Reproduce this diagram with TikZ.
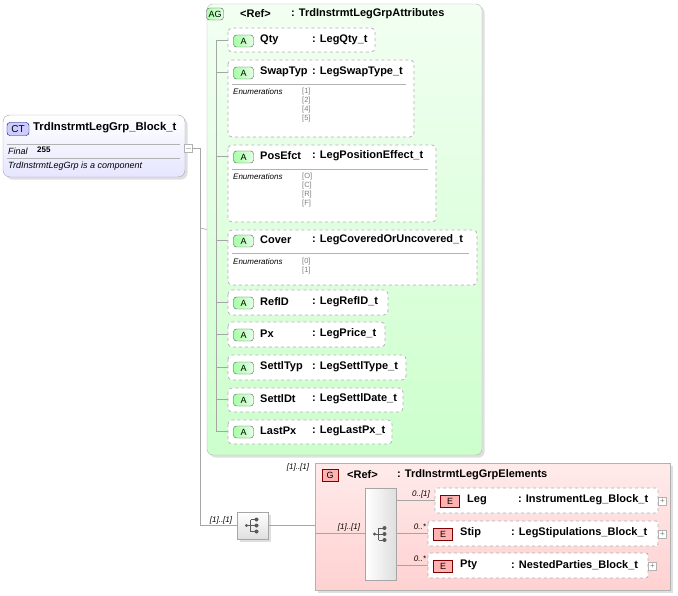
\documentclass[tikz,border=0pt]{standalone}
\usepackage{fontspec}
\setmainfont{Liberation Sans}
\usetikzlibrary{shadows}
\begin{document}
\begin{tikzpicture}[x=1pt,y=-1pt,
  attr/.style={draw=gray!60,dashed,rounded corners=4pt,fill=white,line width=0.8pt},
  badgeA/.style={draw=gray!70!black,left color=green!35,right color=green!10,rounded corners=3pt,inner sep=1.5pt,minimum width=20pt,minimum height=12pt,font=\fontsize{9}{9}\selectfont},
  badgeE/.style={draw=red!50!black,fill=red!30,inner sep=1.5pt,minimum width=19pt,minimum height=12pt,font=\fontsize{9}{9}\selectfont},
  nm/.style={anchor=west,font=\fontsize{11}{12}\selectfont\bfseries,inner sep=0pt},
  en/.style={anchor=west,font=\fontsize{8}{9}\selectfont\itshape,inner sep=0pt},
  ev/.style={anchor=west,font=\fontsize{7.5}{8}\selectfont,text=gray,inner sep=0pt},
  card/.style={font=\fontsize{8}{9}\selectfont\itshape,inner sep=0pt},
  tree/.style={draw=gray!70,line width=0.6pt},
  plus/.style={draw=gray!60,fill=white,minimum size=8pt,inner sep=0pt,font=\fontsize{8}{8}\selectfont,text=gray}]
\useasboundingbox (0,0) rectangle (678,596);

% complex type
\node[draw=gray!70,rounded corners=7pt,top color=white,bottom color=blue!10,minimum width=182pt,minimum height=62pt,drop shadow={opacity=0.25}] (ct) at (94,146) {};
\node[draw=blue!50!black,fill=blue!20,rounded corners=3pt,inner sep=1.5pt,minimum width=22pt,minimum height=13pt,font=\fontsize{10}{10}\selectfont] (ctb) at (18,129) {CT};
\node[nm,font=\fontsize{11.3}{12}\selectfont\bfseries] (ctt) at (33,128) {TrdInstrmtLegGrp\_Block\_t};
\draw[gray!60] (7,144) -- (180,144) (7,158) -- (180,158);
\node[en,font=\fontsize{9}{9}\selectfont\itshape] (fin) at (8,151) {Final};
\node[nm,font=\fontsize{8}{8}\selectfont\bfseries] (fv) at (37,150) {255};
\node[en,font=\fontsize{9}{9}\selectfont\itshape] (ctd) at (8,166) {TrdInstrmtLegGrp is a component};
\node[draw=gray!60,fill=white,minimum size=8pt,inner sep=0pt] (col) at (188,148) {};
\draw[gray!50] (185.5,148) -- (190.5,148);

% attribute group
\node[draw=gray!60,rounded corners=6pt,top color=green!5,bottom color=green!20,minimum width=275pt,minimum height=451pt,drop shadow={opacity=0.25}] (ag) at (344.5,229.5) {};
\node[badgeA,minimum width=17pt] (agb) at (215,14) {AG};
\node[nm] (agr) at (240,14) {<Ref>};
\node[nm] (agt) at (291,14) {: TrdInstrmtLegGrpAttributes};

\coordinate (colr) at (192,148);
\coordinate (tv) at (200,148);
\coordinate (tb) at (200,525);
\draw[tree] (colr) -- (tv) -- (tb);
\draw[tree] (200,228) -- (ag.west);
\draw[tree] (216,40) -- (216,431);

% attributes: name, type, x-right, y-top, y-bottom, header y
\foreach \n/\t/\r/\ya/\yb/\h in {
  Qty/LegQty\_t/375/28/52/40,
  SwapTyp/LegSwapType\_t/414/60/137/72,
  PosEfct/LegPositionEffect\_t/436/145/222/156,
  Cover/LegCoveredOrUncovered\_t/477/230/285/240,
  RefID/LegRefID\_t/388/290/315/302,
  Px/LegPrice\_t/385/322/347/334,
  SettlTyp/LegSettlType\_t/406/355/380/367,
  SettlDt/LegSettlDate\_t/403/388/412/399,
  LastPx/LegLastPx\_t/392/420/444/431}{
  \draw[attr] (228,\ya) rectangle (\r,\yb);
  \draw[tree] (216,\h) -- (228,\h);
  \node[badgeA] (b\n) at (243.5,\h+1) {A};
  \node[nm] (n\n) at (260,\h) {\n};
  \node[nm] (t\n) at (312,\h) {: \t};
}
\draw[gray!60] (232,84) -- (406,84) (232,169) -- (428,169) (232,253) -- (469,253);
\node[en] (e1) at (233,92) {Enumerations};
\node[ev] (v11) at (302,92) {[1]};
\node[ev] (v12) at (302,101) {[2]};
\node[ev] (v13) at (302,110) {[4]};
\node[ev] (v14) at (302,119) {[5]};
\node[en] (e2) at (233,177) {Enumerations};
\node[ev] (v21) at (302,177) {[O]};
\node[ev] (v22) at (302,186) {[C]};
\node[ev] (v23) at (302,195) {[R]};
\node[ev] (v24) at (302,204) {[F]};
\node[en] (e3) at (233,262) {Enumerations};
\node[ev] (v31) at (302,262) {[0]};
\node[ev] (v32) at (302,271) {[1]};

% sequence
\node[draw=gray!70,top color=white,bottom color=gray!25,minimum width=31pt,minimum height=27pt,drop shadow={opacity=0.25}] (seq) at (252.5,525.5) {};
\node[card] (c1) at (221,520) {[1]..[1]};
\draw[tree] (tb) -- (tb -| seq.west);

% group
\node[draw=gray!60,top color=red!8,bottom color=red!18,minimum width=355pt,minimum height=127pt,drop shadow={opacity=0.25}] (g) at (492.5,526.5) {};
\node[card] (c2) at (298,467) {[1]..[1]};
\node[badgeE,minimum width=16pt] (gb) at (330,475) {G};
\node[nm] (gr) at (347,475) {<Ref>};
\node[nm] (gt) at (397,475) {: TrdInstrmtLegGrpElements};
\draw[tree] (seq.east |- tb) -- (g.west |- tb);
\node[draw=gray!70,left color=white,right color=gray!25,minimum width=31pt,minimum height=92pt] (seq2) at (380.5,534) {};
\node[card] (c3) at (349,527) {[1]..[1]};
\draw[tree] (g.west |- 0,533) -- (seq2.west |- 0,533);

\foreach \s in {seq,seq2}{
  \fill[gray!70!black] ([xshift=-6pt]\s.center) circle (1.7pt);
  \draw[gray!70!black,line width=0.8pt] ([xshift=-6pt]\s.center) -- ([xshift=-2pt]\s.center)
    ([xshift=-2pt,yshift=-6pt]\s.center) -- ([xshift=-2pt,yshift=6pt]\s.center)
    ([xshift=-2pt,yshift=-6pt]\s.center) -- ([xshift=4pt,yshift=-6pt]\s.center)
    ([xshift=-2pt]\s.center) -- ([xshift=4pt]\s.center)
    ([xshift=-2pt,yshift=6pt]\s.center) -- ([xshift=4pt,yshift=6pt]\s.center);
  \foreach \d in {-6,0,6} \fill[gray!70!black] ([xshift=4pt,yshift=\d pt]\s.center) circle (2pt);
}

% elements: name, type, x-left, x-right, centre y, card, card x, name x, type x
\foreach \n/\t/\l/\r/\y/\c/\cx/\nx/\tx in {
  Leg/InstrumentLeg\_Block\_t/435/658/500/0..[1]/421/467/518,
  Stip/LegStipulations\_Block\_t/428/658/533/0..*/420/460/511,
  Pty/NestedParties\_Block\_t/428/648/565/0..*/420/460/511}{
  \draw[attr,rounded corners=2pt] (\l,\y-12) rectangle (\r,\y+13);
  \draw[tree] (seq2.east |- 0,\y) -- (\l,\y);
  \node[card] (k\n) at (\cx,\y-6) {\c};
  \node[badgeE] (b\n) at (\l+15,\y+1) {E};
  \node[nm] (n\n) at (\nx,\y) {\n};
  \node[nm] (t\n) at (\tx,\y) {: \t};
  \node[plus] (p\n) at (\r+4.5,\y+1) {+};
}
\end{tikzpicture}
\end{document}
